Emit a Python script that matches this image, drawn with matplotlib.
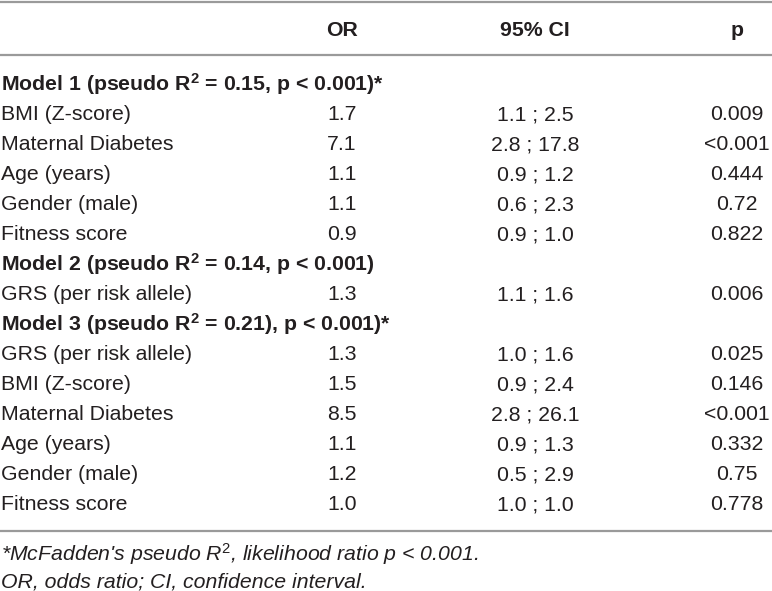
import matplotlib
matplotlib.use("Agg")
import matplotlib.pyplot as plt

FONT = ["Liberation Sans", "DejaVu Sans"]
plt.rcParams["font.family"] = FONT
plt.rcParams["mathtext.fontset"] = "custom"
plt.rcParams["mathtext.rm"] = "Liberation Sans"
plt.rcParams["mathtext.it"] = "Liberation Sans:italic"
plt.rcParams["mathtext.bf"] = "Liberation Sans:bold"

columns = ["OR", "95% CI", "p"]

row_labels = [
    r"Model 1 (pseudo R$^{\mathbf{2}}$ = 0.15, p < 0.001)*",
    "BMI (Z-score)",
    "Maternal Diabetes",
    "Age (years)",
    "Gender (male)",
    "Fitness score",
    r"Model 2 (pseudo R$^{\mathbf{2}}$ = 0.14, p < 0.001)",
    "GRS (per risk allele)",
    r"Model 3 (pseudo R$^{\mathbf{2}}$ = 0.21), p < 0.001)*",
    "GRS (per risk allele)",
    "BMI (Z-score)",
    "Maternal Diabetes",
    "Age (years)",
    "Gender (male)",
    "Fitness score",
]
is_model = [True, False, False, False, False, False, True, False,
            True, False, False, False, False, False, False]

or_values = ["", "1.7", "7.1", "1.1", "1.1", "0.9", "", "1.3",
             "", "1.3", "1.5", "8.5", "1.1", "1.2", "1.0"]
ci_values = ["", "1.1 ; 2.5", "2.8 ; 17.8", "0.9 ; 1.2", "0.6 ; 2.3", "0.9 ; 1.0", "", "1.1 ; 1.6",
             "", "1.0 ; 1.6", "0.9 ; 2.4", "2.8 ; 26.1", "0.9 ; 1.3", "0.5 ; 2.9", "1.0 ; 1.0"]
p_values = ["", "0.009", "<0.001", "0.444", "0.72", "0.822", "", "0.006",
            "", "0.025", "0.146", "<0.001", "0.332", "0.75", "0.778"]

footnotes = [
    r"*McFadden's pseudo R$^{\mathit{2}}$, likelihood ratio p < 0.001.",
    "OR, odds ratio; CI, confidence interval.",
]

W, H = 772, 591
TEXT = "#231f20"
RULE = "#9a9a9a"
FS = 15.3
BASE = 7.5  # baseline sits this many px below the visual row centre

fig = plt.figure(figsize=(W / 100, H / 100), dpi=100)
ax = fig.add_axes([0, 0, 1, 1])
ax.set_xlim(0, W)
ax.set_ylim(H, 0)
ax.axis("off")

col_x = [342, 535, 737]
header_y = 28
first_row_y = 83
row_step = 30

# rules
for y in (1.5, 55, 531):
    ax.plot([0, W], [y, y], color=RULE, lw=1.6, solid_capstyle="butt")

for x, name in zip(col_x, columns):
    ax.text(x, header_y + BASE, name, ha="center", va="baseline", fontsize=FS,
            fontweight="bold", color=TEXT)

for i, label in enumerate(row_labels):
    y = first_row_y + i * row_step + BASE
    ax.text(1, y, label, ha="left", va="baseline", fontsize=FS, color=TEXT,
            fontweight="bold" if is_model[i] else "normal")
    for x, val in zip(col_x, (or_values[i], ci_values[i], p_values[i])):
        if val:
            ax.text(x, y, val, ha="center", va="baseline", fontsize=FS, color=TEXT)

for j, note in enumerate(footnotes):
    ax.text(1, 553 + j * 27 + BASE, note, ha="left", va="baseline", fontsize=FS,
            style="italic", color=TEXT)

fig.savefig("out.png", dpi=100)
